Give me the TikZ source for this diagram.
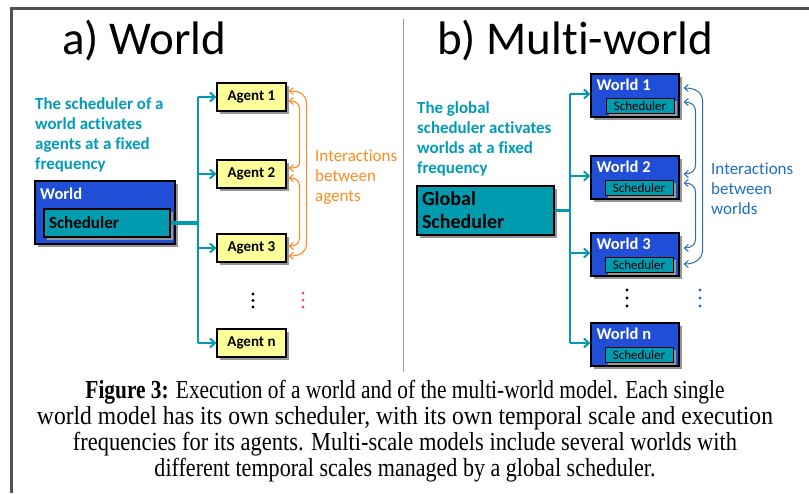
\documentclass[tikz,border=0pt]{standalone}
\usepackage{fontspec}
\usepackage{graphicx}
\setmainfont{Carlito}[Ligatures=CommonOff]
\newfontfamily\capfont{Liberation Serif}
\usetikzlibrary{shadows,arrows.meta,calc}
\definecolor{boxblue}{RGB}{33,78,214}
\definecolor{schedteal}{RGB}{0,155,175}
\definecolor{tealtext}{RGB}{0,155,185}
\definecolor{agentyellow}{RGB}{255,255,153}
\definecolor{orangec}{RGB}{255,140,30}
\definecolor{arrowblue}{RGB}{40,110,170}
\definecolor{textblue}{RGB}{30,110,200}
\definecolor{shadowgray}{RGB}{150,150,150}
\definecolor{framegray}{RGB}{80,80,80}
\begin{document}
\begin{tikzpicture}[x=1pt,y=-1pt,
  shadowed/.style={drop shadow={shadow xshift=3pt,shadow yshift=-3pt,fill=shadowgray,opacity=1}},
  agentbox/.style={draw=black,line width=1.2pt,fill=agentyellow,minimum width=69pt,minimum height=28pt,inner sep=0pt,font=\bfseries\fontsize{15}{18}\selectfont,shadowed},
  worldbig/.style={draw=black,line width=1.2pt,fill=boxblue,minimum width=140pt,minimum height=63pt,inner sep=0pt,shadowed},
  schedbig/.style={draw=black,line width=1.2pt,fill=schedteal,minimum width=126pt,minimum height=28pt,inner xsep=5pt,inner ysep=0pt,text width=116pt,align=left,font=\bfseries\fontsize{17}{20}\selectfont,shadowed},
  gsched/.style={draw=black,line width=1.2pt,fill=schedteal,minimum width=137pt,minimum height=49pt,inner xsep=5pt,inner ysep=0pt,text width=127pt,align=left,font=\bfseries\fontsize{20}{23}\selectfont,shadowed},
  worldbox/.style={draw=black,line width=1.2pt,fill=boxblue,minimum width=88pt,minimum height=43pt,inner sep=0pt,shadowed},
  schedsmall/.style={draw=black,line width=1pt,fill=schedteal,minimum width=68pt,minimum height=15pt,inner sep=0pt,font=\fontsize{13}{15}\selectfont,shadowed},
  wlabel/.style={anchor=west,inner sep=0pt,text=white,font=\bfseries\fontsize{16.5}{20}\selectfont},
  desc/.style={anchor=north west,inner sep=0pt,align=left,text=tealtext,font=\bfseries\fontsize{16.9}{20}\selectfont},
  inter/.style={anchor=north west,inner sep=0pt,align=left,font=\fontsize{17}{20}\selectfont},
  titlefont/.style={anchor=base west,inner sep=0pt,font=\fontsize{47}{50}\selectfont},
  capline/.style={anchor=base,inner sep=0pt,font=\capfont\fontsize{26}{27}\selectfont},
  bus/.style={draw=schedteal,line width=3.5pt},
  trunk/.style={draw=schedteal,line width=2pt},
  conn/.style={draw=schedteal,line width=2pt,-{Straight Barb[length=5pt,width=9pt]}},
  orangearr/.style={draw=orangec,line width=1.1pt,{Straight Barb[length=4pt,width=7pt]}-{Straight Barb[length=4pt,width=7pt]}},
  bluearr/.style={draw=arrowblue,line width=1pt,{Straight Barb[length=4pt,width=7pt]}-{Straight Barb[length=4pt,width=7pt]}}
]
\useasboundingbox (0,0) rectangle (809,493);
\fill[white] (0,0) rectangle (809,493);
% frame and separator
\draw[framegray,line width=2.2pt] (11.5,493) -- (11.5,8.5) -- (809,8.5);
\draw[gray!80,line width=1pt] (403,19) -- (403,372);

% titles
\node[titlefont] (ta) at (62,54) {a) World};
\node[titlefont] (tb) at (437,54) {b) Multi-world};

% ---------- left panel ----------
\node[desc] (dl) at (35,97) {The scheduler of a\\world activates\\agents at a fixed\\frequency};
\node[worldbig] (wbig) at (105,212.5) {};
\node[wlabel] (wbl) at (40,194) {World};
\node[schedbig] (sbig) at (107,223) {Scheduler};

\node[agentbox] (a1) at (251.5,97) {Agent 1};
\node[agentbox] (a2) at (251.5,174) {Agent 2};
\node[agentbox] (a3) at (251.5,248) {Agent 3};
\node[agentbox] (an) at (251.5,343) {Agent n};

\coordinate (lx) at (198,0);
\draw[bus] (sbig.east) -- (sbig.east -| lx);
\draw[trunk] (a1.west -| lx) -- (an.west -| lx);
\draw[conn] (a1.west -| lx) -- (a1.west);
\draw[conn] (a2.west -| lx) -- (a2.west);
\draw[conn] (a3.west -| lx) -- (a3.west);
\draw[conn] (an.west -| lx) -- (an.west);

\coordinate (o1s) at ($(a1.east)+(2,-6)$);
\coordinate (o1t) at ($(a1.east)+(20,7)$);
\coordinate (o3t) at ($(a3.east)+(20,-5)$);
\coordinate (o3e) at ($(a3.east)+(2,8)$);
\draw[orangearr] (o1s) .. controls +(12,0) and +(0,-9) .. (o1t) -- (o3t) .. controls +(0,9) and +(12,0) .. (o3e);
\coordinate (i1s) at ($(a1.east)+(2,4)$);
\coordinate (i1t) at ($(a1.east)+(13,13)$);
\coordinate (i2t) at ($(a2.east)+(13,-13)$);
\coordinate (i2e) at ($(a2.east)+(2,-6)$);
\draw[orangearr] (i1s) .. controls +(8,0) and +(0,-6) .. (i1t) -- (i2t) .. controls +(0,6) and +(8,0) .. (i2e);
\coordinate (j2s) at ($(a2.east)+(2,4)$);
\coordinate (j2t) at ($(a2.east)+(13,13)$);
\coordinate (j3t) at ($(a3.east)+(13,-11)$);
\coordinate (j3e) at ($(a3.east)+(2,-2)$);
\draw[orangearr] (j2s) .. controls +(8,0) and +(0,-6) .. (j2t) -- (j3t) .. controls +(0,6) and +(8,0) .. (j3e);

\node[inter,text=orangec] (il) at (315,150) {Interactions\\between\\agents};

\fill[black] (253,294) circle[radius=1.7pt] (253,300.5) circle[radius=1.7pt] (253,307) circle[radius=1.7pt];
\fill[red!75!white] (303,293) circle[radius=1.5pt] (303,300) circle[radius=1.5pt] (303,307) circle[radius=1.5pt];

% ---------- right panel ----------
\node[desc] (dr) at (417,101) {The global\\scheduler activates\\worlds at a fixed\\frequency};
\node[gsched] (gs) at (485.5,210.5) {Global\\Scheduler};

\node[worldbox] (w1) at (635,95.5) {};
\node[worldbox] (w2) at (635,177.5) {};
\node[worldbox] (w3) at (635,254.5) {};
\node[worldbox] (wn) at (635,344.5) {};
\node[wlabel] (w1l) at ($(w1.north west)+(6,11)$) {World 1};
\node[wlabel] (w2l) at ($(w2.north west)+(6,11)$) {World 2};
\node[wlabel] (w3l) at ($(w3.north west)+(6,11)$) {World 3};
\node[wlabel] (wnl) at ($(wn.north west)+(6,11)$) {World n};
\node[schedsmall] (s1) at ($(w1.south)+(5,-12)$) {Scheduler};
\node[schedsmall] (s2) at ($(w2.south)+(4,-12)$) {Scheduler};
\node[schedsmall] (s3) at ($(w3.south)+(4,-12)$) {Scheduler};
\node[schedsmall] (sn) at ($(wn.south)+(4,-12)$) {Scheduler};

\coordinate (rx) at (570,0);
\draw[bus] (gs.east) -- (gs.east -| rx);
\draw[trunk] ($(w1.west -| rx)+(0,-1.5)$) -- ($(wn.west -| rx)+(0,-1.5)$);
\draw[conn] ($(w1.west -| rx)+(0,-1.5)$) -- ($(w1.west)+(0,-1.5)$);
\draw[conn] ($(w2.west -| rx)+(0,-1.5)$) -- ($(w2.west)+(0,-1.5)$);
\draw[conn] ($(w3.west -| rx)+(0,-1.5)$) -- ($(w3.west)+(0,-1.5)$);
\draw[conn] ($(wn.west -| rx)+(0,-1.5)$) -- ($(wn.west)+(0,-1.5)$);

\coordinate (p1s) at ($(w1.east)+(4,-7.5)$);
\coordinate (p1t) at ($(w1.east)+(23,6)$);
\coordinate (p3t) at ($(w3.east)+(23,-5)$);
\coordinate (p3e) at ($(w3.east)+(4,9.5)$);
\draw[bluearr] (p1s) .. controls +(12,0) and +(0,-9) .. (p1t) -- (p3t) .. controls +(0,9) and +(12,0) .. (p3e);
\coordinate (q1s) at ($(w1.east)+(4,6.5)$);
\coordinate (q1t) at ($(w1.east)+(16,16)$);
\coordinate (q2t) at ($(w2.east)+(16,-13)$);
\coordinate (q2e) at ($(w2.east)+(4,-3.5)$);
\draw[bluearr] (q1s) .. controls +(8,0) and +(0,-6) .. (q1t) -- (q2t) .. controls +(0,6) and +(8,0) .. (q2e);
\coordinate (r2s) at ($(w2.east)+(4,5.5)$);
\coordinate (r2t) at ($(w2.east)+(16,15)$);
\coordinate (r3t) at ($(w3.east)+(16,-16)$);
\coordinate (r3e) at ($(w3.east)+(4,-6.5)$);
\draw[bluearr] (r2s) .. controls +(8,0) and +(0,-6) .. (r2t) -- (r3t) .. controls +(0,6) and +(8,0) .. (r3e);

\node[inter,text=textblue] (ir) at (711,163) {Interactions\\between\\worlds};

\fill[black] (627,290) circle[radius=1.7pt] (627,298) circle[radius=1.7pt] (627,306) circle[radius=1.7pt];
\fill[textblue] (700,290) circle[radius=1.7pt] (700,298) circle[radius=1.7pt] (700,306) circle[radius=1.7pt];

% ---------- caption ----------
\node[capline] (c1) at (405,398) {\resizebox{639pt}{\height}{\textbf{Figure 3:} Execution of a world and of the multi-world model. Each single}};
\node[capline] (c2) at (405,424) {\resizebox{736pt}{\height}{world model has its own scheduler, with its own temporal scale and execution}};
\node[capline] (c3) at (405,450) {\resizebox{664pt}{\height}{frequencies for its agents. Multi-scale models include several worlds with}};
\node[capline] (c4) at (405,476) {\resizebox{501pt}{\height}{different temporal scales managed by a global scheduler.}};
\end{tikzpicture}
\end{document}
